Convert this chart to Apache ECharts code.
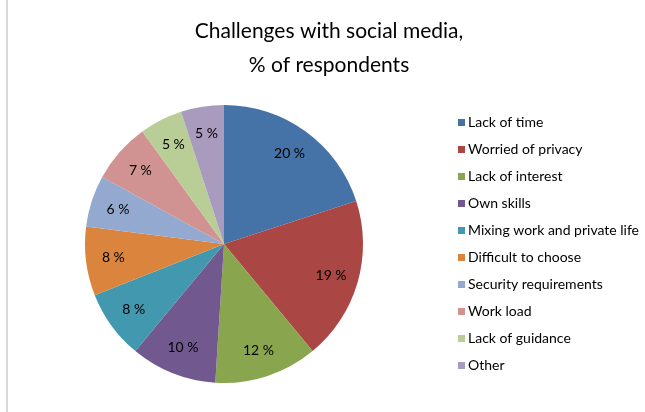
<!DOCTYPE html>
<html>
<head>
<meta charset="utf-8">
<script src="https://cdn.jsdelivr.net/npm/echarts@6/dist/echarts.min.js"></script>
<style>html,body{margin:0;padding:0;background:#fff}#c{width:645px;height:412px}</style>
</head>
<body>
<div id="c"></div>
<script>
const categories = ["Lack of time","Worried of privacy","Lack of interest","Own skills","Mixing work and private life","Difficult to choose","Security requirements","Work load","Lack of guidance","Other"];
const values = [20, 19, 12, 10, 8, 8, 6, 7, 5, 5];
const colors = ["#4572A7","#AA4643","#89A54E","#71588F","#4198AF","#DB843D","#93A9CF","#D19392","#B9CD96","#A99BBD"];
const titleText = "Challenges with social media,\n% of respondents";

const FONT = "Lato, 'Open Sans', sans-serif";
const data = categories.map((n, i) => ({ name: n, value: values[i], itemStyle: { color: colors[i] } }));
const chart = echarts.init(document.getElementById('c'), null, { renderer: 'canvas' });
chart.setOption({
  animation: false,
  backgroundColor: '#ffffff',
  title: {
    text: titleText,
    left: 324, textAlign: 'center', top: 9,
    textStyle: { fontFamily: FONT, fontSize: 21, fontWeight: 'normal', color: '#000', lineHeight: 34 }
  },
  legend: {
    orient: 'vertical',
    left: 453, top: 110,
    icon: 'rect', itemWidth: 7, itemHeight: 7, itemGap: 12,
    textStyle: { fontFamily: FONT, fontSize: 14, color: '#000', lineHeight: 15, padding: [0, 0, 0, -2] },
    data: categories
  },
  graphic: [{
    type: 'line', shape: { x1: 7, y1: 0, x2: 7, y2: 412 },
    style: { stroke: '#b0b0b0', lineWidth: 1 }
  }],
  series: [{
    type: 'pie',
    center: [224, 244], radius: [0, 139],
    startAngle: 90, clockwise: true,
    data: data,
    label: { show: false }, labelLine: { show: false },
    itemStyle: { borderWidth: 0 },
    emphasis: { disabled: true }
  }, {
    type: 'pie',
    center: [224, 244], radius: [78, 139],
    startAngle: 90, clockwise: true, silent: true,
    data: categories.map((n, i) => ({ name: n, value: values[i] })),
    itemStyle: { color: 'rgba(0,0,0,0)', borderWidth: 0 },
    label: { show: true, position: 'inside', formatter: '{c} %', fontFamily: FONT, fontSize: 14, color: '#000' },
    labelLine: { show: false },
    emphasis: { disabled: true }
  }]
});
</script>
</body>
</html>
